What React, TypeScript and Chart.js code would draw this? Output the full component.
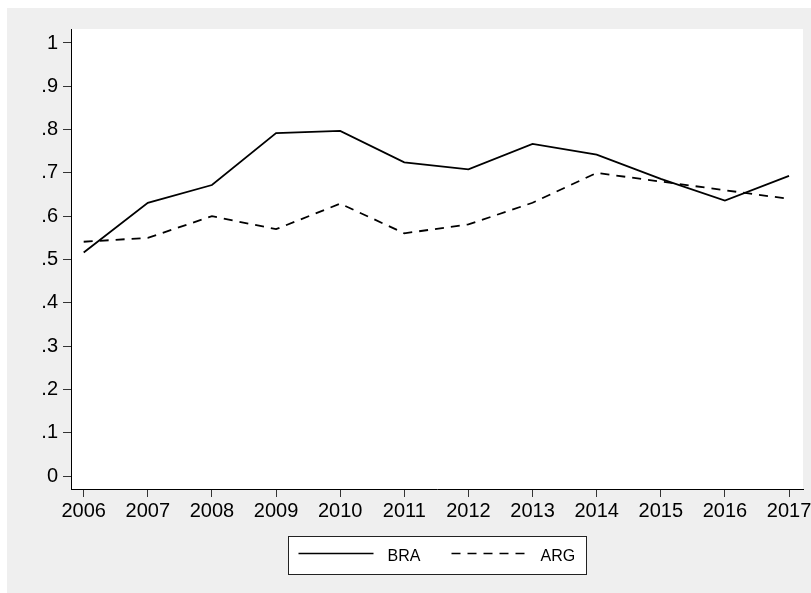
import React, { useEffect, useRef } from "react";
import { Chart, registerables } from "chart.js";

Chart.register(...registerables);

const years = [2006, 2007, 2008, 2009, 2010, 2011, 2012, 2013, 2014, 2015, 2016, 2017];
const braValues = [0.516, 0.631, 0.672, 0.792, 0.797, 0.7245, 0.708, 0.767, 0.742, 0.686, 0.636, 0.693];
const argValues = [0.541, 0.55, 0.6, 0.57, 0.629, 0.5605, 0.581, 0.631, 0.7, 0.68, 0.66, 0.64];
const yTickValues = [0, 0.1, 0.2, 0.3, 0.4, 0.5, 0.6, 0.7, 0.8, 0.9, 1];
const yTickLabels = ["0", ".1", ".2", ".3", ".4", ".5", ".6", ".7", ".8", ".9", "1"];
const seriesNames = ["BRA", "ARG"];

const FONT = "'Liberation Sans', Arial, Helvetica, sans-serif";
const GRAY = "#efefef";

const backgroundPlugin = {
  id: "stataBackground",
  beforeDraw(chart: any) {
    const { ctx, chartArea, width, height } = chart;
    ctx.save();
    ctx.fillStyle = GRAY;
    ctx.fillRect(0, 0, width, height);
    ctx.fillStyle = "#ffffff";
    ctx.fillRect(chartArea.left, chartArea.top, chartArea.right - chartArea.left, chartArea.bottom - chartArea.top);
    ctx.restore();
  },
};

const legendPlugin = {
  id: "stataLegend",
  afterDraw(chart: any) {
    const { ctx, chartArea } = chart;
    const boxW = 298;
    const boxH = 38;
    const cx = (chartArea.left + chartArea.right) / 2;
    const left = Math.round(cx - boxW / 2) + 0.5;
    const top = 528.5;
    ctx.save();
    ctx.fillStyle = "#ffffff";
    ctx.fillRect(left, top, boxW, boxH);
    ctx.strokeStyle = "#222";
    ctx.lineWidth = 1;
    ctx.strokeRect(left, top, boxW, boxH);
    const ly = top + boxH / 2 - 2;
    ctx.lineWidth = 1.6;
    ctx.strokeStyle = "#000";
    // BRA
    ctx.setLineDash([]);
    ctx.beginPath();
    ctx.moveTo(left + 10, ly);
    ctx.lineTo(left + 85, ly);
    ctx.stroke();
    // ARG
    ctx.setLineDash([9, 7]);
    ctx.beginPath();
    ctx.moveTo(left + 163, ly);
    ctx.lineTo(left + 240, ly);
    ctx.stroke();
    ctx.setLineDash([]);
    ctx.fillStyle = "#000";
    ctx.font = `16px ${FONT}`;
    ctx.textBaseline = "middle";
    ctx.textAlign = "left";
    ctx.fillText(seriesNames[0], left + 99, top + boxH / 2 + 1);
    ctx.fillText(seriesNames[1], left + 252, top + boxH / 2 + 1);
    ctx.restore();
  },
};

export default function App() {
  const canvasRef = useRef<HTMLCanvasElement | null>(null);

  useEffect(() => {
    if (!canvasRef.current) return;
    const chart = new Chart(canvasRef.current, {
      type: "line",
      data: {
        datasets: [
          {
            label: seriesNames[0],
            data: years.map((x, i) => ({ x, y: braValues[i] })),
            borderColor: "#000",
            borderWidth: 1.8,
            pointRadius: 0,
            tension: 0,
            fill: false,
          },
          {
            label: seriesNames[1],
            data: years.map((x, i) => ({ x, y: argValues[i] })),
            borderColor: "#000",
            borderWidth: 1.8,
            borderDash: [9, 7],
            pointRadius: 0,
            tension: 0,
            fill: false,
          },
        ],
      },
      options: {
        animation: false,
        responsive: false,
        devicePixelRatio: 1,
        layout: { padding: { left: 0, right: 8, top: 21, bottom: 64 } },
        plugins: {
          legend: { display: false },
          tooltip: { enabled: false },
        },
        scales: {
          x: {
            type: "linear",
            min: 2005.802,
            max: 2017.218,
            afterBuildTicks: (s: any) => {
              s.ticks = years.map((v) => ({ value: v }));
            },
            afterFit: (s: any) => {
              s.height = 40;
              s.paddingLeft = 0;
              s.paddingRight = 0;
            },
            ticks: {
              callback: (v: any) => String(v),
              autoSkip: false,
              maxRotation: 0,
              minRotation: 0,
              padding: 2,
              color: "#000",
              font: { family: FONT, size: 20 },
            },
            grid: {
              drawOnChartArea: false,
              drawTicks: true,
              tickLength: 8,
              color: "#333",
              lineWidth: 1,
            },
            border: { display: true, color: "#000", width: 1 },
          },
          y: {
            type: "linear",
            min: -0.03,
            max: 1.0323,
            afterBuildTicks: (s: any) => {
              s.ticks = yTickValues.map((v) => ({ value: v }));
            },
            afterFit: (s: any) => {
              s.width = 64;
              s.paddingTop = 0;
              s.paddingBottom = 0;
            },
            ticks: {
              callback: (v: any) => {
                const idx = yTickValues.findIndex((t) => Math.abs(t - v) < 1e-6);
                return idx >= 0 ? yTickLabels[idx] : "";
              },
              autoSkip: false,
              padding: 5,
              color: "#000",
              font: { family: FONT, size: 20 },
            },
            grid: {
              drawOnChartArea: false,
              drawTicks: true,
              tickLength: 8,
              color: "#333",
              lineWidth: 1,
            },
            border: { display: true, color: "#000", width: 1 },
          },
        },
      },
      plugins: [backgroundPlugin, legendPlugin],
    });
    return () => chart.destroy();
  }, []);

  return (
    <div style={{ position: "fixed", left: 7, top: 8, width: 804, height: 585 }}>
      <canvas ref={canvasRef} width={804} height={585} style={{ display: "block" }} />
    </div>
  );
}
